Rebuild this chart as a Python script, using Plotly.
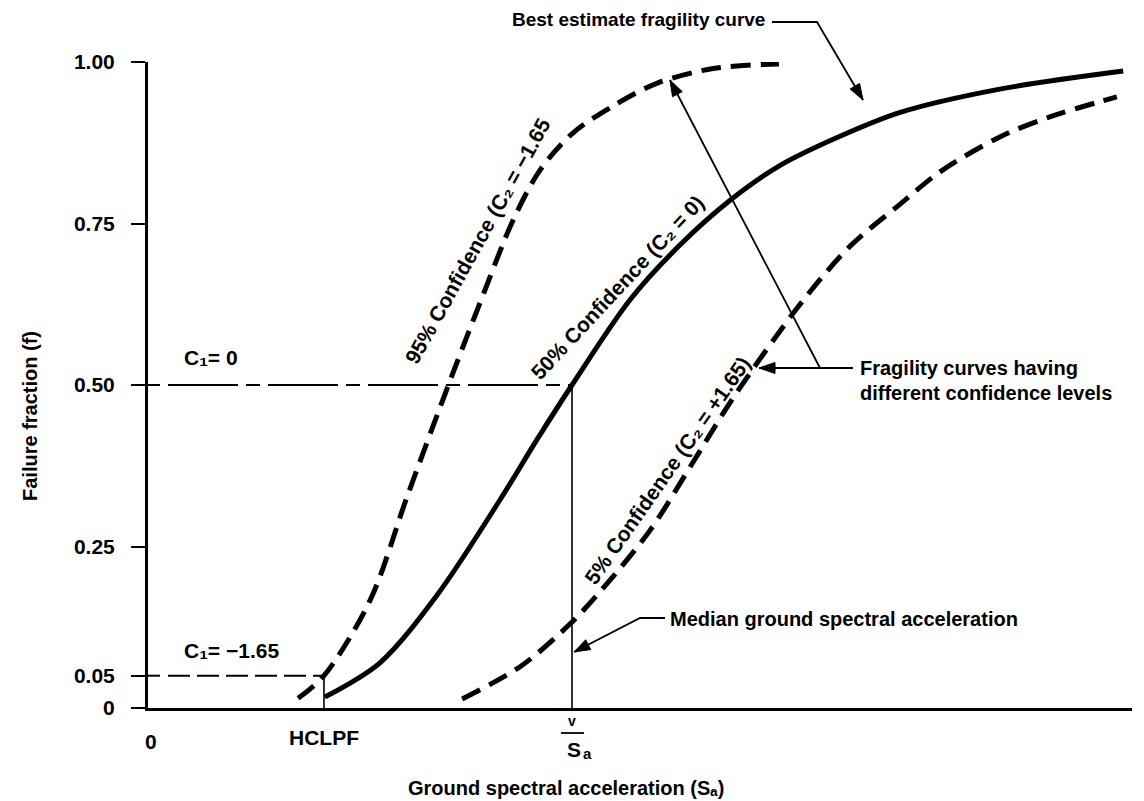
import math
import plotly.graph_objects as go

# ---- data: ground spectral acceleration expressed as S_a / median S_a ----
x95 = [0.354, 0.415, 0.524, 0.611, 0.712, 0.783, 0.861, 0.925, 1.002, 1.097, 1.200, 1.333, 1.488]
f95 = [0.015, 0.050, 0.167, 0.327, 0.506, 0.627, 0.755, 0.833, 0.890, 0.932, 0.967, 0.990, 0.997]
x50 = [0.417, 0.547, 0.682, 0.830, 0.917, 1.000, 1.137, 1.255, 1.373, 1.491, 1.632, 1.774, 2.009, 2.300]
f50 = [0.017, 0.070, 0.175, 0.322, 0.415, 0.500, 0.632, 0.717, 0.786, 0.840, 0.885, 0.922, 0.958, 0.986]
x05 = [0.741, 0.880, 0.995, 1.066, 1.184, 1.285, 1.380, 1.538, 1.656, 1.774, 1.868, 2.009, 2.127, 2.285]
f05 = [0.014, 0.065, 0.130, 0.180, 0.275, 0.380, 0.480, 0.625, 0.715, 0.780, 0.830, 0.884, 0.915, 0.946]

y_tickvals = [0, 0.05, 0.25, 0.50, 0.75, 1.00]
y_ticktext = ["0", "0.05", "0.25", "0.50", "0.75", "1.00"]

HCLPF = 0.415      # high-confidence low-probability-of-failure capacity
SA_MED = 1.0       # median ground spectral acceleration
F_MED = 0.50       # C1 = 0
F_HCLPF = 0.05     # C1 = -1.65

# ---- layout geometry (pixel helpers for text / callout placement only) ----
W, H = 1144, 801
L, R, T, B = 148, 12, 62, 93
PW, PH = W - L - R, H - T - B
XMAX = PW / 424.0


def xp(p):          # pixel x -> paper
    return (p - L) / PW


def yp(p):          # pixel y -> paper
    return (H - B - p) / PH


def dpx(p):         # pixel x -> data x
    return (p - L) / 424.0


FONT = "Liberation Sans, DejaVu Sans"
BLACK = "#000000"

fig = go.Figure()

for xs, fs, dash in ((x95, f95, "20px,10px"), (x50, f50, "solid"), (x05, f05, "20px,10px")):
    fig.add_trace(go.Scatter(x=xs, y=fs, mode="lines",
                             line=dict(color=BLACK, width=5, dash=dash, shape="spline", smoothing=0.9),
                             hoverinfo="skip", showlegend=False))

shapes = [
    dict(type="line", xref="x", yref="y", x0=dpx(168), x1=SA_MED, y0=F_MED, y1=F_MED,
         line=dict(color=BLACK, width=2, dash="70px,8px,14px,8px")),
    dict(type="line", xref="x", yref="y", x0=SA_MED, x1=SA_MED, y0=0, y1=F_MED,
         line=dict(color=BLACK, width=1.6)),
    dict(type="line", xref="x", yref="y", x0=dpx(168), x1=HCLPF, y0=F_HCLPF, y1=F_HCLPF,
         line=dict(color=BLACK, width=2, dash="22px,7px")),
    dict(type="line", xref="x", yref="y", x0=HCLPF, x1=HCLPF, y0=0, y1=F_HCLPF,
         line=dict(color=BLACK, width=1.6)),
    dict(type="line", xref="x", yref="y", x0=0, x1=dpx(160), y0=F_MED, y1=F_MED, line=dict(color=BLACK, width=2)),
    dict(type="line", xref="x", yref="y", x0=0, x1=dpx(160), y0=F_HCLPF, y1=F_HCLPF, line=dict(color=BLACK, width=2)),
    # overbar of S_a tick label
    dict(type="line", xref="paper", yref="paper", x0=xp(561), x1=xp(584), y0=yp(733), y1=yp(733),
         line=dict(color=BLACK, width=1.8)),
]


def callout(points):
    """Poly-line leader (pixel points) ending in a filled arrowhead at the last point."""
    path = "M " + " L ".join(f"{xp(x):.5f},{yp(y):.5f}" for x, y in points)
    shapes.append(dict(type="path", xref="paper", yref="paper", path=path,
                       line=dict(color=BLACK, width=1.8)))
    (x1, y1), (x2, y2) = points[-2], points[-1]
    ang = math.atan2(y2 - y1, x2 - x1)
    ln, hw = 16, 5.5
    bx, by = x2 - ln * math.cos(ang), y2 - ln * math.sin(ang)
    px1, py1 = bx + hw * math.sin(ang), by - hw * math.cos(ang)
    px2, py2 = bx - hw * math.sin(ang), by + hw * math.cos(ang)
    tri = (f"M {xp(x2):.5f},{yp(y2):.5f} L {xp(px1):.5f},{yp(py1):.5f} "
           f"L {xp(px2):.5f},{yp(py2):.5f} Z")
    shapes.append(dict(type="path", xref="paper", yref="paper", path=tri,
                       fillcolor=BLACK, line=dict(color=BLACK, width=1)))


callout([(772, 22), (817, 22), (863, 100)])
callout([(853, 368), (820, 368), (670, 80)])
callout([(820, 368), (759, 368)])
callout([(665, 618), (640, 618), (574, 652)])


def txt(x, y, s, size=21, xanchor="center", yanchor="middle", angle=0):
    return dict(x=xp(x), y=yp(y), xref="paper", yref="paper", text=s, showarrow=False,
                xanchor=xanchor, yanchor=yanchor, textangle=angle,
                font=dict(family=FONT, size=size, color=BLACK, weight="bold"))


annotations = [
    txt(151, 741, "0"),
    txt(L + HCLPF * 424, 737, "HCLPF"),
    txt(572, 721, "v", size=14),
    txt(574, 749, "S"),
    txt(587, 753, "a", size=15),
    txt(566, 788, "Ground spectral acceleration (Sₐ)", size=20),
    txt(30, 416, "Failure fraction (f)", size=20, angle=-90),
    txt(182, 357, "C₁= 0", xanchor="left"),
    txt(182, 650, "C₁= −1.65", xanchor="left"),
    txt(477, 241, "95% Confidence (C₂ = −1.65", angle=-61),
    txt(617, 287, "50% Confidence (C₂ = 0)", angle=-47),
    txt(667, 470, "5% Confidence (C₂ = +1.65)", angle=-55),
    txt(767, 20, "Best estimate fragility curve", size=19, xanchor="right"),
    txt(858, 368, "Fragility curves having", size=20, xanchor="left"),
    txt(858, 393, "different confidence levels", size=20, xanchor="left"),
    txt(668, 619, "Median ground spectral acceleration", size=20, xanchor="left"),
]

fig.update_layout(
    width=W, height=H, margin=dict(l=L, r=R, t=T, b=B),
    paper_bgcolor="white", plot_bgcolor="white",
    font=dict(family=FONT, size=21, color=BLACK, weight="bold"),
    shapes=shapes, annotations=annotations, showlegend=False,
    xaxis=dict(range=[0, XMAX], showgrid=False, zeroline=False, showticklabels=False, ticks="",
               showline=True, linecolor=BLACK, linewidth=3),
    yaxis=dict(range=[0, 1], showgrid=False, zeroline=False, tickvals=y_tickvals, ticktext=y_ticktext,
               ticks="outside", ticklen=14, tickwidth=2, tickcolor=BLACK, showline=True, linecolor=BLACK,
               linewidth=3, ticklabelstandoff=12, tickfont=dict(family=FONT, size=21, color=BLACK, weight="bold")),
)

fig.write_html("out.html")
